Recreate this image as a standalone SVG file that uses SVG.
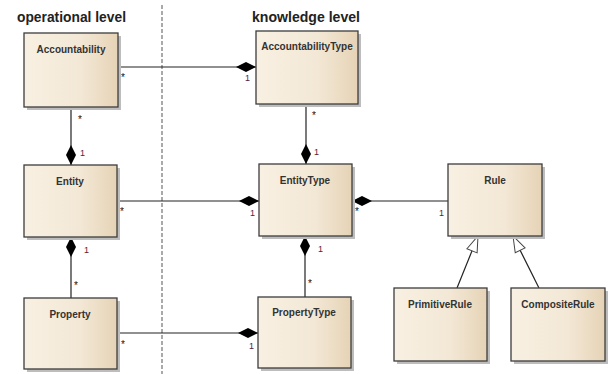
<svg xmlns="http://www.w3.org/2000/svg" width="610" height="374" viewBox="0 0 610 374">
<defs>
<linearGradient id="boxfill" x1="0" y1="0" x2="1" y2="0">
<stop offset="0" stop-color="#f8f0e2"/>
<stop offset="0.6" stop-color="#f3e8d6"/>
<stop offset="1" stop-color="#e6d3b6"/>
</linearGradient>
<marker id="diamond" viewBox="0 0 20 10" refX="20" refY="5" markerWidth="20" markerHeight="10" markerUnits="userSpaceOnUse" orient="auto">
<path d="M0,5 L10,0 L20,5 L10,10 Z" fill="#000"/>
</marker>
<marker id="tri" viewBox="-1 -1 18 14" refX="16" refY="6" markerWidth="18" markerHeight="14" markerUnits="userSpaceOnUse" orient="auto">
<path d="M0,0.5 L16,6 L0,11.5 Z" fill="#fff" stroke="#444" stroke-width="1"/>
</marker>
</defs>
<style>
.shadow{fill:#bdbdbd;}
.box{fill:url(#boxfill);stroke:#3c3c3c;stroke-width:1.3;}
.lbl{font-family:"Liberation Sans",Arial,sans-serif;font-weight:bold;font-size:10px;fill:#333;text-anchor:middle;}
.head{font-family:"Liberation Sans",Arial,sans-serif;font-weight:bold;font-size:14.5px;fill:#222;}
.conn{stroke:#222;stroke-width:1.2;fill:none;}
.m{font-family:"Liberation Sans",Arial,sans-serif;font-size:10px;fill:#111;}
.one{font-family:"Liberation Sans",Arial,sans-serif;font-size:9px;fill:#5a2038;}
</style>
<rect width="610" height="374" fill="#fff"/>
<text class="head" x="17" y="22" textLength="109" lengthAdjust="spacingAndGlyphs">operational level</text>
<text class="head" x="252" y="22" textLength="108" lengthAdjust="spacingAndGlyphs">knowledge level</text>
<line x1="162" y1="5" x2="162" y2="374" stroke="#555" stroke-width="1" stroke-dasharray="4,2"/>
<g id="connectors">
<line class="conn" x1="118" y1="67" x2="256" y2="67" marker-end="url(#diamond)"/>
<line class="conn" x1="71" y1="107" x2="71" y2="165" marker-end="url(#diamond)"/>
<line class="conn" x1="306" y1="104" x2="306" y2="164" marker-end="url(#diamond)"/>
<line class="conn" x1="117" y1="201" x2="259" y2="201" marker-end="url(#diamond)"/>
<line class="conn" x1="448" y1="201" x2="352" y2="201" marker-end="url(#diamond)"/>
<line class="conn" x1="71" y1="298" x2="71" y2="237" marker-end="url(#diamond)"/>
<line class="conn" x1="305" y1="297" x2="305" y2="236" marker-end="url(#diamond)"/>
<line class="conn" x1="117" y1="333" x2="258" y2="333" marker-end="url(#diamond)"/>
<line class="conn" x1="457" y1="288" x2="478" y2="236" stroke="#444" marker-end="url(#tri)"/>
<line class="conn" x1="539" y1="288" x2="513" y2="236" stroke="#444" marker-end="url(#tri)"/>
<text class="m" x="121" y="81">*</text>
<text class="one" x="245" y="81">1</text>
<text class="m" x="78" y="123">*</text>
<text class="one" x="80" y="156">1</text>
<text class="m" x="312" y="119">*</text>
<text class="one" x="314" y="155">1</text>
<text class="m" x="120" y="215">*</text>
<text class="one" x="250" y="216">1</text>
<text class="m" x="355" y="215">*</text>
<text class="one" x="439" y="216">1</text>
<text class="one" x="84" y="253">1</text>
<text class="m" x="74" y="289">*</text>
<text class="one" x="318" y="252">1</text>
<text class="m" x="308" y="287">*</text>
<text class="m" x="121" y="348">*</text>
<text class="one" x="249" y="349">1</text>
</g>
<g id="accountability">
<rect class="shadow" x="27" y="36" width="94" height="74"/>
<rect class="box" x="24" y="33" width="94" height="74"/>
<text class="lbl" x="71" y="53">Accountability</text>
</g>
<g id="accountabilitytype">
<rect class="shadow" x="259" y="34" width="102" height="73"/>
<rect class="box" x="256" y="31" width="102" height="73"/>
<text class="lbl" x="307" y="50">AccountabilityType</text>
</g>
<g id="entity">
<rect class="shadow" x="27" y="168" width="93" height="72"/>
<rect class="box" x="24" y="165" width="93" height="72"/>
<text class="lbl" x="70" y="185">Entity</text>
</g>
<g id="entitytype">
<rect class="shadow" x="262" y="167" width="93" height="72"/>
<rect class="box" x="259" y="164" width="93" height="72"/>
<text class="lbl" x="305" y="184">EntityType</text>
</g>
<g id="property">
<rect class="shadow" x="27" y="301" width="93" height="71"/>
<rect class="box" x="24" y="298" width="93" height="71"/>
<text class="lbl" x="70" y="318">Property</text>
</g>
<g id="propertytype">
<rect class="shadow" x="261" y="300" width="93" height="71"/>
<rect class="box" x="258" y="297" width="93" height="71"/>
<text class="lbl" x="304" y="316">PropertyType</text>
</g>
<g id="rule">
<rect class="shadow" x="451" y="167" width="94" height="72"/>
<rect class="box" x="448" y="164" width="94" height="72"/>
<text class="lbl" x="495" y="184">Rule</text>
</g>
<g id="primitiverule">
<rect class="shadow" x="397" y="291" width="93" height="73"/>
<rect class="box" x="394" y="288" width="93" height="73"/>
<text class="lbl" x="440" y="308">PrimitiveRule</text>
</g>
<g id="compositerule">
<rect class="shadow" x="514" y="291" width="94" height="73"/>
<rect class="box" x="511" y="288" width="94" height="73"/>
<text class="lbl" x="558" y="308">CompositeRule</text>
</g>
</svg>
